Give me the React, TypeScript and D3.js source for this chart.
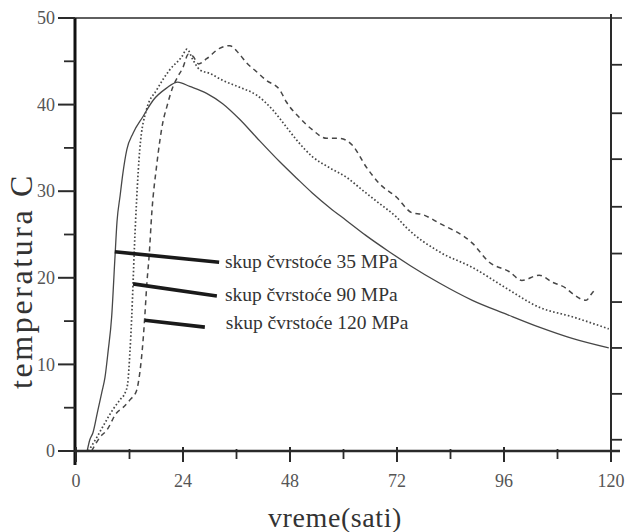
import * as d3 from "d3";

// hours / °C
const seriesNames = ["skup čvrstoće 35 MPa", "skup čvrstoće 90 MPa", "skup čvrstoće 120 MPa"];

const hours35 = [2.5, 3.1, 3.8, 4.9, 5.8, 6.5, 7.2, 8, 8.7, 9.2, 9.9, 10.5, 11.4, 12.8, 15, 17.3, 20.3, 22.8, 25.5, 29.3, 32.9, 36.7, 40.5, 45.7, 49.5, 53, 56.9, 60.7, 65, 70, 75, 81.5, 88.9, 96.5, 103.9, 111.3, 119.5];
const temp35 = [0, 1.3, 2.1, 4.7, 6.8, 8.5, 11.5, 15.5, 22, 26.5, 29.5, 32, 34.8, 36.7, 38.6, 40.5, 41.9, 42.6, 42.1, 41.3, 40.1, 38.3, 36.2, 33.4, 31.5, 29.8, 28.1, 26.6, 24.9, 23.1, 21.4, 19.4, 17.4, 15.8, 14.3, 13, 11.9];

const hours90 = [2.8, 4.7, 6, 8.3, 10, 11, 11.6, 12.1, 12.5, 12.8, 13.1, 13.6, 14.3, 15.8, 18.1, 21, 23.7, 24.9, 26.2, 27.8, 30, 32.9, 36.7, 40.5, 44.1, 47.2, 49.5, 53, 56.9, 60.7, 64.3, 68, 71.9, 74.1, 81.5, 88.9, 96.5, 103.9, 111.3, 119.5];
const temp90 = [0, 1.6, 2.8, 4.8, 6, 6.7, 7.8, 11.5, 15.5, 19.4, 23.5, 29, 34.8, 39.4, 41.7, 44, 45.5, 46.4, 45.2, 44, 43.6, 42.8, 42, 41.1, 39.4, 37.4, 35.9, 34, 32.7, 31.6, 30.1, 28.6, 27, 25.8, 23, 21.2, 18.8, 16.6, 15.5, 14.1];

const hours120 = [3.5, 5.4, 6.9, 9.1, 10.5, 12.1, 13.6, 14.3, 15, 15.4, 15.9, 16.4, 17, 18.1, 19.5, 20.4, 21.7, 22.6, 24, 25.2, 26.2, 27.5, 29.3, 32.2, 34.5, 36.7, 38.3, 40.5, 42.7, 45.7, 47.2, 50.1, 53, 56.2, 59.1, 62, 65.1, 68, 71.9, 75.4, 77.7, 81.5, 88.9, 92.7, 97.2, 100, 103.9, 106.8, 109.9, 111.3, 114.4, 115.7, 116.6];
const temp120 = [0, 1.6, 2.4, 4.4, 5, 5.9, 7, 9, 12.5, 15.3, 19.4, 22.5, 27.5, 33, 38, 39.8, 42, 43, 44.3, 45.8, 45.6, 44.7, 45.3, 46.5, 46.8, 45.8, 44.8, 43.8, 42.8, 41.7, 40.3, 38.5, 37.1, 36.1, 36.1, 35.3, 32.8, 30.9, 29.3, 27.5, 27.3, 26.3, 24, 21.8, 20.7, 19.7, 20.3, 19.5, 18.8, 18.2, 17.4, 18.2, 18.7];

const xTicks = [0, 24, 48, 72, 96, 120];
const xMinorTicks = [12, 36, 60, 84, 108];
const yTicks = [0, 10, 20, 30, 40, 50];
const yMinorTicks = [5, 15, 25, 35, 45];
const rightTicks = [1.3, 6.6, 11.9, 17.2, 22.8, 28.2, 33.7, 39.0, 44.6];

// where each leader line touches its curve (hours, °C)
const leaderHours = [8.7, 12.8, 15.4];
const leaderTemps = [23, 19.3, 15.1];

const W = 628;
const H = 532;
const ink = "#2a2a2a";
const curveInk = "#474747";
const serif = "'Liberation Serif', 'Times New Roman', serif";

export default function App() {
  const x = d3.scaleLinear().domain([0, 120]).range([76, 611]);
  const y = d3.scaleLinear().domain([0, 50]).range([451, 18]);

  const line = d3
    .line<[number, number]>()
    .x((d) => x(d[0]))
    .y((d) => y(d[1]))
    .curve(d3.curveMonotoneX);

  const series = [
    { pts: d3.zip(hours35, temp35) as [number, number][], dash: undefined, width: 1.3 },
    { pts: d3.zip(hours90, temp90) as [number, number][], dash: "1.6,2.2", width: 1.7 },
    { pts: d3.zip(hours120, temp120) as [number, number][], dash: "5,4", width: 1.5 }
  ];

  const left = x(0) - 1;
  const right = x(120);
  const top = y(50);
  const bottom = y(0);

  // leader end points / label offsets, in data units so they follow the scales
  const leaderEnd = [
    [32.1, 21.8],
    [31.6, 17.9],
    [28.9, 14.3]
  ];
  const labelPos = [
    [33.4, 21.1],
    [33.4, 17.3],
    [33.6, 14.1]
  ];

  return (
    <svg
      width={W}
      height={H}
      style={{ position: "absolute", left: 0, top: 0, background: "#fff" }}
    >
      {series.map((s, i) => (
        <path
          key={i}
          d={line(s.pts) ?? ""}
          fill="none"
          stroke={curveInk}
          strokeWidth={s.width}
          strokeDasharray={s.dash}
        />
      ))}

      {/* frame */}
      <line x1={58} x2={622} y1={top} y2={top} stroke={ink} strokeWidth={1.5} />
      <line x1={left} x2={left} y1={top} y2={bottom + 14} stroke="#111" strokeWidth={3} />
      <line x1={left} x2={620} y1={bottom} y2={bottom} stroke={ink} strokeWidth={2.5} />
      <line x1={right} x2={right} y1={top - 4} y2={bottom + 8} stroke={ink} strokeWidth={2} />

      {yTicks.map((t) => (
        <g key={`y${t}`}>
          <line x1={58} x2={left} y1={y(t)} y2={y(t)} stroke={ink} strokeWidth={2} />
          <text
            x={55}
            y={y(t)}
            dy="0.34em"
            textAnchor="end"
            fontFamily={serif}
            fontSize={18}
            fill="#555"
          >
            {t}
          </text>
        </g>
      ))}
      {yMinorTicks.map((t) => (
        <line key={`ym${t}`} x1={64} x2={left} y1={y(t)} y2={y(t)} stroke={ink} strokeWidth={1.8} />
      ))}

      {xTicks.map((t) => (
        <g key={`x${t}`}>
          <line x1={x(t)} x2={x(t)} y1={bottom - 4} y2={bottom + 11} stroke={ink} strokeWidth={2} />
          <text
            x={x(t)}
            y={487}
            textAnchor="middle"
            fontFamily={serif}
            fontSize={18}
            fill="#555"
          >
            {t}
          </text>
        </g>
      ))}
      {xMinorTicks.map((t) => (
        <line key={`xm${t}`} x1={x(t)} x2={x(t)} y1={bottom - 2} y2={bottom + 8} stroke={ink} strokeWidth={1.8} />
      ))}

      {rightTicks.map((t) => (
        <line key={`r${t}`} x1={right} x2={right + 11} y1={y(t)} y2={y(t)} stroke={ink} strokeWidth={1.8} />
      ))}

      {/* leader lines + series labels */}
      {seriesNames.map((name, i) => (
        <g key={name}>
          <line
            x1={x(leaderHours[i])}
            y1={y(leaderTemps[i])}
            x2={x(leaderEnd[i][0])}
            y2={y(leaderEnd[i][1])}
            stroke="#1a1a1a"
            strokeWidth={3.6}
          />
          <text
            x={x(labelPos[i][0])}
            y={y(labelPos[i][1])}
            fontFamily={serif}
            fontSize={19.5}
            fill="#333"
          >
            {name}
          </text>
        </g>
      ))}

      <text
        x={335}
        y={527}
        textAnchor="middle"
        fontFamily={serif}
        fontSize={28}
        letterSpacing={0.6}
        fill="#333"
      >
        vreme(sati)
      </text>
      <text
        transform="translate(32, 281) rotate(-90)"
        textAnchor="middle"
        fontFamily={serif}
        fontSize={32}
        letterSpacing={2.6}
        fill="#333"
      >
        temperatura C
      </text>
    </svg>
  );
}
